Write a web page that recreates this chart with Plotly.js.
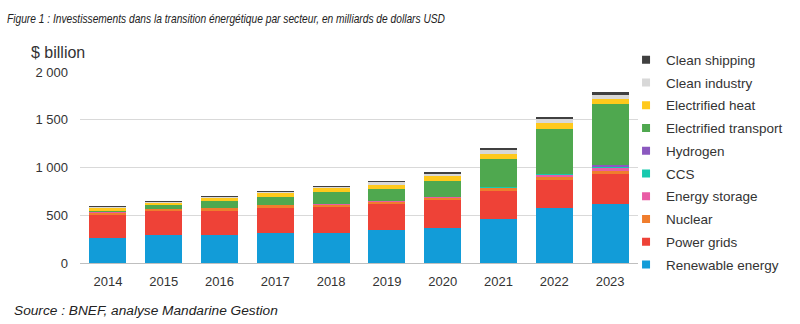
<!DOCTYPE html>
<html>
<head>
<meta charset="utf-8">
<script src="https://cdn.plot.ly/plotly-3.0.1.min.js"></script>
<style>html,body{margin:0;padding:0;background:#fff;}#chart{width:800px;height:324px;}</style>
</head>
<body>
<div id="chart"></div>
<script>
const years = ["2014","2015","2016","2017","2018","2019","2020","2021","2022","2023"];
const seriesNames = ["Renewable energy","Power grids","Nuclear","Energy storage","CCS","Hydrogen","Electrified transport","Electrified heat","Clean industry","Clean shipping"];
const renewable = [267, 295, 295, 316, 316, 347, 371, 462, 579, 618];
const grids     = [233, 250, 250, 260, 274, 268, 285, 291, 292, 313];
const nuclear   = [28, 20, 27, 28, 15, 25, 28, 30, 25, 28];
const storage   = [3, 2, 4, 3, 16, 6, 4, 5, 21, 37];
const ccs       = [0, 0, 0, 0, 0, 0, 0, 3, 10, 10];
const hydrogen  = [0, 0, 0, 0, 0, 0, 0, 1, 3, 15];
const transport = [15, 37, 70, 81, 122, 128, 169, 294, 470, 639];
const heat      = [28, 28, 31, 41, 42, 42, 56, 59, 69, 59];
const industry  = [17, 10, 17, 14, 15, 28, 17, 35, 35, 45];
const shipping  = [9, 10, 10, 14, 10, 14, 21, 24, 24, 24];
const yTickVals = [0, 500, 1000, 1500, 2000];
const yTickText = ["0", "500", "1 000", "1 500", "2 000"];

const values = [renewable, grids, nuclear, storage, ccs, hydrogen, transport, heat, industry, shipping];
const colors = ["#129CD8","#EE4237","#F07D2D","#E95CA5","#17C9AE","#8B58BF","#4FA84F","#FFC91C","#D8D8D8","#404040"];

const traces = [];
values.forEach((v, i) => {
  traces.push({type:"bar", x: years, y: v, name: seriesNames[i], marker:{color: colors[i], line:{width:0}},
    showlegend:false, legendgroup: "g"+i, hoverinfo:"x+y+name"});
});
// legend entries (small squares)
for (let i = values.length - 1; i >= 0; i--) {
  traces.push({type:"scatter", mode:"markers", x:[null], y:[null], name: seriesNames[i], legendgroup:"g"+i,
    marker:{symbol:"square", size:8, color: colors[i]}, hoverinfo:"skip"});
}

const layout = {
  width: 800, height: 324,
  margin: {l: 80, r: 160, t: 72, b: 61, pad: 0},
  paper_bgcolor: "#fff", plot_bgcolor: "#fff",
  barmode: "stack", bargap: 0.34,
  font: {family: "Liberation Sans, Arial, sans-serif", color: "#333", size: 13},
  title: {text: "<i>Figure 1 : Investissements dans la transition énergétique par secteur, en milliards de dollars USD</i>",
    x: 7/800, xref: "container", xanchor: "left", y: 1 - 18/324, yref: "container", yanchor: "middle",
    font: {family: "Liberation Sans, Arial, sans-serif", size: 13.5, color: "#222"}},
  xaxis: {type: "category", showgrid: false, showline: true, linecolor: "#bfbfbf", linewidth: 1,
    ticks: "", tickfont: {size: 13, color: "#333"}, ticklabelstandoff: 6, fixedrange: true},
  yaxis: {range: [0, 2000], tickvals: yTickVals, ticktext: yTickText, showgrid: true, gridcolor: "#d9d9d9",
    gridwidth: 1, zeroline: false, showline: false, ticks: "", tickfont: {size: 13, color: "#333"},
    ticklabelstandoff: 11, fixedrange: true},
  legend: {x: (628-80)/560, xanchor: "left", y: 1 + (71.7-44)/191.6, yanchor: "top", maxheight: 300,
    traceorder: "grouped", tracegroupgap: 2.2, font: {size: 13.5, color: "#333"}, bgcolor: "rgba(0,0,0,0)",
    itemclick: false, itemdoubleclick: false},
  annotations: [
    {text: "$ billion", xref: "paper", yref: "paper", x: (29-80)/560, y: 1 + (71.7-52)/191.6,
      xanchor: "left", yanchor: "middle", showarrow: false, font: {size: 16, color: "#333"}},
    {text: "<i>Source : BNEF, analyse Mandarine Gestion</i>", xref: "paper", yref: "paper",
      x: (11.7-80)/560, y: (263.3-311)/191.6, xanchor: "left", yanchor: "middle", showarrow: false,
      font: {size: 13.7, color: "#222"}}
  ]
};
Plotly.newPlot("chart", traces, layout, {displayModeBar: false, staticPlot: true}).then(gd => {
  // the reference title uses a condensed face: compress the rendered title text to its width
  const t = gd.querySelector(".gtitle");
  if (t) { t.setAttribute("textLength", "438"); t.setAttribute("lengthAdjust", "spacingAndGlyphs"); }
});
</script>
</body>
</html>
